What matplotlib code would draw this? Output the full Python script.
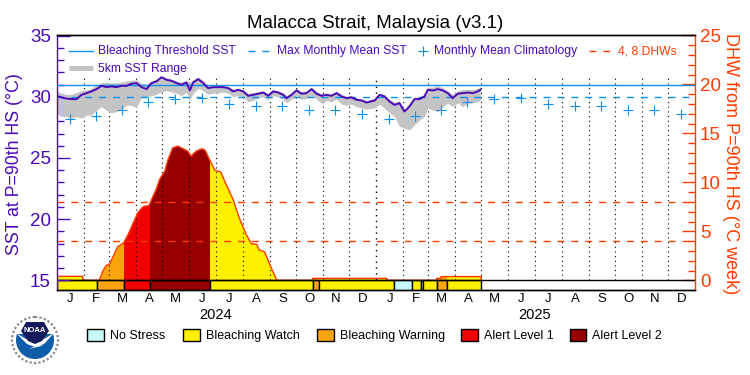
import matplotlib
matplotlib.use('Agg')
import matplotlib.pyplot as plt
from matplotlib.patches import Circle, Polygon, Rectangle

plt.rcParams['font.family'] = ['Liberation Sans', 'DejaVu Sans']

title = 'Malacca Strait, Malaysia (v3.1)'
months = ['J', 'F', 'M', 'A', 'M', 'J', 'J', 'A', 'S', 'O', 'N', 'D'] * 2
month_len = [31, 29, 31, 30, 31, 30, 31, 31, 30, 31, 30, 31,
             31, 28, 31, 30, 31, 30, 31, 31, 30, 31, 30, 31]

# days since 1 Jan 2024
sst_days = [0, 5.7, 11.4, 17.2, 22.9, 28.6, 34.3, 40, 45.8, 51.5,
            57.2, 62.9, 68.7, 74.4, 80.1, 85.8, 91.5, 97.3, 103, 108.7,
            114.4, 120.1, 125.9, 131.6, 137.3, 143, 148.7, 152.6, 156.4, 162.1,
            167.8, 173.5, 179.3, 185, 190.7, 196.4, 202.1, 207.9, 213.6, 219.3,
            225, 230.7, 236.5, 242.2, 247.9, 253.6, 259.3, 263.2, 268.9, 274.6,
            280.3, 286, 291.8, 297.5, 303.2, 308.9, 314.7, 320.4, 326.1, 331.8,
            337.5, 343.3, 349, 354.7, 364.2, 369.5, 375.2, 381, 386.7, 392.4,
            398.1, 403.8, 409.6, 415.3, 421, 424.8, 430.5, 436.3, 442, 447.7,
            453.4, 459.1, 464.9, 470.6, 476.3, 482, 485]
sst = [30.08, 29.95, 29.86, 29.81, 29.81, 30.16, 30.3, 30.44, 30.63, 30.9,
       30.79, 30.85, 30.79, 30.9, 30.9, 31.07, 31.12, 30.79, 30.63, 31.12,
       31.26, 31.6, 31.39, 31.31, 31.12, 30.98, 31.17, 30.52, 31.17, 31.45,
       31.12, 30.71, 30.79, 30.79, 30.79, 30.71, 30.44, 30.57, 30.44, 30.08,
       30.16, 30.25, 30.35, 30.08, 30.44, 30.35, 30.16, 29.89, 30.16, 30.52,
       30.25, 30.3, 30.63, 30.25, 30.08, 30.16, 30.08, 30.3, 30.03, 29.89,
       29.95, 29.75, 29.7, 29.53, 29.7, 30.16, 30.03, 29.62, 29.34, 29.48,
       28.8, 29.2, 29.81, 29.81, 30.03, 30.57, 30.52, 30.63, 30.52, 30.3,
       29.89, 30.25, 30.3, 30.35, 30.3, 30.44, 30.57]
sst_high = [30.5, 30.3, 30.2, 30.2, 30.35, 30.5, 30.55, 30.7, 31.0, 31.15,
            31.2, 31.15, 31.15, 31.2, 31.3, 31.35, 31.4, 31.1, 31.0, 31.3,
            31.45, 31.7, 31.55, 31.45, 31.3, 31.2, 31.35, 31.2, 31.4, 31.6,
            31.35, 30.95, 30.95, 30.95, 30.95, 30.85, 30.65, 30.7, 30.6, 30.3,
            30.35, 30.45, 30.5, 30.3, 30.6, 30.5, 30.35, 30.1, 30.35, 30.7,
            30.45, 30.45, 30.8, 30.45, 30.25, 30.3, 30.25, 30.45, 30.2, 30.05,
            30.1, 29.95, 29.85, 29.7, 29.9, 30.3, 30.2, 29.8, 29.55, 29.65,
            29.0, 29.4, 30.0, 30.0, 30.2, 30.8, 30.8, 30.9, 30.75, 30.5,
            30.2, 30.5, 30.6, 30.6, 30.6, 30.7, 30.8]
sst_low = [28.6, 28.39, 28.39, 28.26, 28.39, 28.26, 28.5, 28.53, 28.9, 29.2,
           28.9, 28.7, 28.8, 29.0, 29.3, 29.3, 29.1, 30.0, 30.0, 30.1,
           30.2, 30.4, 30.5, 30.4, 30.3, 30.1, 30.35, 29.8, 30.3, 30.7,
           30.5, 30.2, 30.3, 30.3, 30.4, 30.3, 30.0, 30.1, 30.0, 29.6,
           29.7, 29.9, 30.0, 29.75, 30.1, 30.0, 29.8, 29.5, 29.8, 30.1,
           29.8, 29.85, 30.1, 29.8, 29.5, 29.7, 29.6, 29.8, 29.4, 29.3,
           29.4, 29.2, 29.1, 29.0, 29.1, 29.4, 29.07, 28.7, 28.39, 27.57,
           27.44, 27.3, 27.7, 28.1, 28.4, 29.07, 28.9, 28.8, 29.2, 29.5,
           29.2, 29.5, 29.2, 29.5, 29.5, 29.6, 29.7]

clim_days = [15, 45, 75, 105, 136, 166, 197, 228, 258, 289, 319, 350,
             381, 410, 440, 470, 501, 531, 562, 593, 623, 654, 684, 715]
clim = [28.22, 28.47, 28.96, 29.57, 29.81, 29.94, 29.45, 29.29, 29.26, 28.93, 28.9, 28.62,
        28.22, 28.47, 28.96, 29.57, 29.81, 29.94, 29.45, 29.29, 29.26, 28.93, 28.9, 28.62]
threshold = 30.98
mmm = 29.98
dhw_levels = [4, 8]

dhw_days = [0, 0, 30, 30, 49, 53, 57, 61, 65, 70, 77, 82, 87, 93, 99, 106, 110, 114, 118,
            124, 127, 133, 139, 145, 150, 154, 160, 166, 170, 175, 181, 188, 194, 202, 209,
            217, 223, 229, 232, 238, 244, 252, 293, 293, 378, 378, 435, 435, 440, 440, 486, 486]
dhw = [0, 0.41, 0.41, 0, 0, 0.95, 1.53, 1.7, 2.48, 3.43, 3.84, 4.69, 5.71, 6.9, 7.52, 7.65, 8.5, 9.29, 10.31,
       11.16, 12.18, 13.54, 13.71, 13.43, 13.2, 12.69, 13.2, 13.43, 13.3, 12.35, 11.26, 11.05, 9.8, 8.27, 6.4,
       4.69, 3.74, 3.67, 3.09, 2.92, 1.63, 0, 0, 0.2, 0.2, 0, 0, 0.2, 0.2, 0.38, 0.38, 0]

stress_edges = [0, 46, 77, 107.5, 175.4, 293.3, 300, 386, 407, 416.8, 419.5, 434.8, 447, 486]
stress_level = [1, 2, 3, 4, 1, 2, 1, 0, 1, 0, 1, 2, 1]
stress_names = ['No Stress', 'Bleaching Watch', 'Bleaching Warning', 'Alert Level 1', 'Alert Level 2']
stress_colors = ['#c8fafa', '#fff000', '#faa50f', '#f00000', '#960000']

purple = '#4b0ab5'
red = '#ff3c00'
blue = '#0a8ff0'
gray = '#c4c4c4'

fig = plt.figure(figsize=(7.5, 3.75), dpi=100)
ax = fig.add_axes([56.5 / 750, 1 - 290.3 / 375, 638 / 750, 255 / 375])
ax2 = ax.twinx()
ax.set_zorder(2)
ax.patch.set_visible(False)

ax.set_xlim(0, 730)
ax.set_ylim(14.18, 35.03)
ax2.set_ylim(-1.02, 25.02)

# DHW area coloured by stress level, with the band underneath
poly = Polygon(list(zip(dhw_days, dhw)), closed=True, fc='none', ec='none', transform=ax2.transData)
ax2.add_patch(poly)
for i, lev in enumerate(stress_level):
    span = ax2.axvspan(stress_edges[i], stress_edges[i + 1], ymin=0, ymax=1,
                       fc=stress_colors[lev], ec='none', zorder=1)
    span.set_clip_path(poly)
    ax2.add_patch(Rectangle((stress_edges[i], -1.02), stress_edges[i + 1] - stress_edges[i], 1.02,
                            fc=stress_colors[lev], ec='black', lw=1, zorder=4))
ax2.plot(dhw_days, dhw, color=red, lw=1, zorder=3)
ax2.axhline(0, color='black', lw=1, zorder=5)
for lev in dhw_levels:
    ax2.axhline(lev, color=red, lw=1, ls=(0, (5, 5)), zorder=3)

# month boundaries
pos = 0
for n in month_len[:-1]:
    pos += n
    ax2.plot([pos, pos], [0, 20.8], color='black', lw=1.0 if pos == 366 else 0.8,
             ls=(0, (1, 3.2)), zorder=2)

ax.fill_between(sst_days, sst_low, sst_high, color=gray, lw=0, zorder=2)
ax.axhline(threshold, color=blue, lw=1, zorder=3)
ax.axhline(mmm, color=blue, lw=1, ls=(0, (5, 5)), zorder=3)
ax.plot(clim_days, clim, ls='none', marker='+', ms=6.5, mew=0.8, color=blue, zorder=3)
ax.plot(sst_days, sst, color=purple, lw=1.4, zorder=4)

ax.set_xticks([])
ax.set_yticks([15, 20, 25, 30, 35])
ax.set_yticks(range(15, 36), minor=True)
ax2.set_yticks([0, 5, 10, 15, 20, 25])
ax2.set_yticks(range(0, 26), minor=True)
ax.tick_params(axis='y', which='major', direction='in', length=9.5, width=1, color=purple,
               labelcolor=purple, labelsize=13.5, pad=4)
ax.tick_params(axis='y', which='minor', direction='in', length=4.7, width=1, color=purple)
ax2.tick_params(axis='y', which='major', direction='in', length=9.5, width=1, color=red,
                labelcolor=red, labelsize=13.5, pad=4)
ax2.tick_params(axis='y', which='minor', direction='in', length=4.7, width=1, color=red)

for a in (ax, ax2):
    a.spines['left'].set_color(purple)
    a.spines['right'].set_color(red)
    for s in a.spines.values():
        s.set_linewidth(1)
ax2.spines['left'].set_visible(False)
ax.spines['right'].set_visible(False)

# overlay in pixel coordinates for title, labels and legends
ov = fig.add_axes([0, 0, 1, 1], zorder=5)
ov.set_xlim(0, 750)
ov.set_ylim(375, 0)
ov.axis('off')

ov.text(375, 23, title, ha='center', va='center', fontsize=13.5, color='black')
ov.text(15, 164, 'SST at P=90th HS (°C)', rotation=90, ha='center', va='center', fontsize=12.8, color=purple)
ov.text(731, 164, 'DHW from P=90th HS (°C week)', rotation=270, ha='center', va='center', fontsize=13, color=red)

start = 0
for m, n in zip(months, month_len):
    ax.text(start + n / 2, 13.45, m, ha='center', va='center', fontsize=9.5, color='black')
    start += n
ov.text(216, 315, '2024', ha='center', va='center', fontsize=10.5, color='black')
ov.text(535, 315, '2025', ha='center', va='center', fontsize=10.5, color='black')

# top legend
leg = dict(va='center', fontsize=8.7)
ov.plot([69, 93], [51, 51], color=blue, lw=1)
ov.text(98, 51, 'Bleaching Threshold SST', color=purple, **leg)
ov.plot([248, 270], [51, 51], color=blue, lw=1, ls=(0, (5, 5)))
ov.text(277, 51, 'Max Monthly Mean SST', color=purple, **leg)
ov.plot([423], [51], ls='none', marker='+', ms=6.5, mew=0.8, color=blue)
ov.text(434, 51, 'Monthly Mean Climatology', color=purple, **leg)
ov.plot([589, 612], [51, 51], color=red, lw=1, ls=(0, (5, 5)))
ov.text(618, 51, '4, 8 DHWs', color=red, **leg)
ov.plot([69, 93], [68, 68], color=gray, lw=3.6, solid_capstyle='butt')
ov.text(98, 69, '5km SST Range', color=purple, **leg)

# bottom legend
box_x = [87, 183, 317, 461, 569.5]
for bx, c, name in zip(box_x, stress_colors, stress_names):
    ov.add_patch(Rectangle((bx, 329), 16.5, 12, fc=c, ec='black', lw=1))
    ov.text(bx + 23, 336, name, color='black', va='center', fontsize=9)

# NOAA logo
cx, cy = 35, 340
ov.add_patch(Circle((cx, cy), 23, fc='white', ec='#8a8a8a', lw=1.6, ls=(0, (1, 1))))
ov.add_patch(Circle((cx, cy), 19, fc='white', ec='none'))
sea = Circle((cx, cy), 19, fc='#0f5ca8', ec='none')
ov.add_patch(sea)
sea.set_clip_path(Rectangle((cx - 20, cy - 6), 40, 30, transform=ov.transData))
ov.add_patch(Polygon([(cx - 19, cy - 7), (cx - 8, cy + 4), (cx, cy + 7), (cx + 9, cy + 4), (cx + 19, cy - 7),
                      (cx + 9, cy - 1), (cx, cy + 1), (cx - 9, cy - 1)], fc='white', ec='none'))
ov.add_patch(Polygon([(cx - 9, cy - 18), (cx + 9, cy - 18), (cx + 14, cy - 9), (cx + 7, cy + 1), (cx, cy + 4),
                      (cx - 7, cy + 1), (cx - 14, cy - 9)], fc='#141a5c', ec='none'))
ov.add_patch(Polygon([(cx - 6, cy + 9), (cx + 10, cy + 2), (cx + 15, cy - 4), (cx + 6, cy + 6)], fc='white', ec='none'))
ov.text(cx, cy - 9, 'NOAA', color='white', fontsize=5.5, fontweight='bold', ha='center', va='center')

fig.savefig('out.png', dpi=100)
